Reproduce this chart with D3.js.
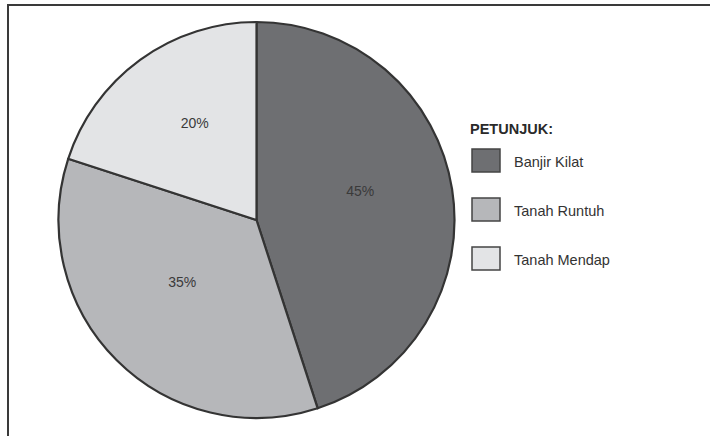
<!DOCTYPE html>
<html>
<head>
<meta charset="utf-8">
<script src="https://cdn.jsdelivr.net/npm/d3@7"></script>
<style>
  html, body { margin: 0; padding: 0; background: #ffffff; }
  svg { display: block; }
</style>
</head>
<body>
<svg id="chart" width="710" height="436"></svg>
<script>
const categories = ["Banjir Kilat", "Tanah Runtuh", "Tanah Mendap"];
const values = [45, 35, 20];
const valueLabels = ["45%", "35%", "20%"];
const legendTitle = "PETUNJUK:";
const colors = ["#6e6f72", "#b6b7ba", "#e3e4e6"];

const svg = d3.select("#chart");
const W = 710, H = 436;
const font = "'Liberation Sans', Arial, Helvetica, sans-serif";

// frame
svg.append("rect")
  .attr("x", 8).attr("y", 5)
  .attr("width", W + 10).attr("height", H + 10)
  .attr("fill", "#ffffff")
  .attr("stroke", "#3a3a3a").attr("stroke-width", 2);

const cx = 256.5, cy = 220, R = 198;
const g = svg.append("g").attr("transform", `translate(${cx},${cy})`);

const pie = d3.pie().sort(null).value(d => d)(values);
const arc = d3.arc().innerRadius(0).outerRadius(R);
const labelArc = d3.arc().innerRadius(R * 0.53).outerRadius(R * 0.53);

g.selectAll("path.slice")
  .data(pie)
  .join("path")
  .attr("class", "slice")
  .attr("d", arc)
  .attr("fill", (d, i) => colors[i])
  .attr("stroke", "#343434")
  .attr("stroke-width", 2.2)
  .attr("stroke-linejoin", "round");

g.selectAll("text.pct")
  .data(pie)
  .join("text")
  .attr("class", "pct")
  .attr("transform", d => {
    const [x, y] = labelArc.centroid(d);
    return `translate(${x},${y - 12})`;
  })
  .attr("text-anchor", "middle")
  .attr("dy", "0.35em")
  .attr("font-family", font)
  .attr("font-size", 14)
  .attr("fill", "#3a3a3a")
  .text((d, i) => valueLabels[i]);

// legend
const lg = svg.append("g").attr("transform", "translate(470,0)");
lg.append("text")
  .attr("x", 0).attr("y", 134)
  .attr("font-family", font)
  .attr("font-size", 14.5)
  .attr("font-weight", "bold")
  .attr("fill", "#2a2a2a")
  .text(legendTitle);

const ly = d3.scalePoint().domain(categories).range([161, 259]);

const items = lg.selectAll("g.item")
  .data(categories)
  .join("g")
  .attr("class", "item")
  .attr("transform", d => `translate(0,${ly(d)})`);

items.append("rect")
  .attr("x", 2).attr("y", -12)
  .attr("width", 28).attr("height", 23)
  .attr("fill", (d, i) => colors[i])
  .attr("stroke", "#444444")
  .attr("stroke-width", 1.5);

items.append("text")
  .attr("x", 44).attr("y", 6)
  .attr("font-family", font)
  .attr("font-size", 14.5)
  .attr("fill", "#333333")
  .text(d => d);
</script>
</body>
</html>
